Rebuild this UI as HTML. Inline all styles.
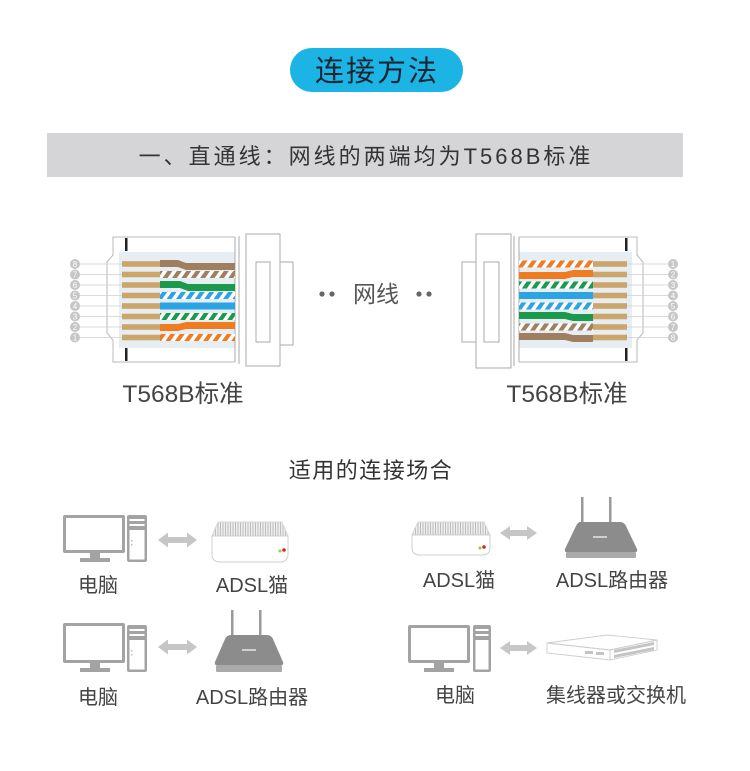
<!DOCTYPE html>
<html><head><meta charset="utf-8"><style>
html,body{margin:0;padding:0;background:#fff;}
svg{display:block;}
text{font-family:"Liberation Sans","Noto Sans CJK SC",sans-serif;}
</style></head><body>
<svg width="750" height="771" viewBox="0 0 750 771" xmlns="http://www.w3.org/2000/svg">
<defs>
 <pattern id="sBr" width="9.4" height="10" patternUnits="userSpaceOnUse" patternTransform="skewX(-35)"><rect width="9.4" height="10" fill="#fff"/><rect width="5" height="10" fill="#9f7f60"/></pattern>
 <pattern id="sGr" width="9.4" height="10" patternUnits="userSpaceOnUse" patternTransform="skewX(-35)"><rect width="9.4" height="10" fill="#fff"/><rect width="5" height="10" fill="#1a9a4c"/></pattern>
 <pattern id="sBl" width="9.4" height="10" patternUnits="userSpaceOnUse" patternTransform="skewX(-35)"><rect width="9.4" height="10" fill="#fff"/><rect width="5" height="10" fill="#2ca3e2"/></pattern>
 <pattern id="sOr" width="9.4" height="10" patternUnits="userSpaceOnUse" patternTransform="skewX(-35)"><rect width="9.4" height="10" fill="#fff"/><rect width="5" height="10" fill="#f07c22"/></pattern>
 <pattern id="hatch" width="2.5" height="10" patternUnits="userSpaceOnUse"><rect width="2.5" height="10" fill="#eeeeee"/><rect width="1" height="10" fill="#bdbdbd"/></pattern>
</defs>

<!-- Title pill -->
<rect x="290" y="48" width="173" height="44" rx="22" fill="#1bb4e4"/>
<text x="377" y="81" font-size="29" letter-spacing="2" text-anchor="middle" fill="#1a2533">连接方法</text>

<!-- Gray bar -->
<rect x="47" y="133" width="636" height="44" fill="#d5d5d7"/>
<text x="366" y="164" font-size="22" letter-spacing="3" text-anchor="middle" fill="#333">一、直通线：网线的两端均为T568B标准</text>

<!-- LEFT CONNECTOR -->
<g>
 <rect x="119" y="252" width="116" height="96" fill="#e6edf3"/>
 <path d="M235,237 H113 V255 L107,262 V333 L113,340 V362 H235" fill="none" stroke="#b8b8b8" stroke-width="1"/>
 <rect x="125" y="238" width="2.5" height="13" fill="#222"/>
 <rect x="125" y="348" width="2.5" height="13" fill="#222"/>
 <line x1="235" y1="237" x2="235" y2="362" stroke="#aaa"/>
 <line x1="239" y1="236" x2="239" y2="364" stroke="#aaa"/>
 <rect x="246" y="234" width="34" height="132" fill="#fff" stroke="#aaa"/>
 <rect x="256" y="262" width="14" height="80" fill="#fff" stroke="#aaa"/>
 <rect x="280" y="262" width="13" height="83" fill="#fff" stroke="#aaa"/>
 <g stroke="#cfcfcf" stroke-width="0.8">
  <line x1="80" y1="264" x2="122" y2="264"/><line x1="80" y1="274.5" x2="122" y2="274.5"/>
  <line x1="80" y1="285" x2="122" y2="285"/><line x1="80" y1="295.5" x2="122" y2="295.5"/>
  <line x1="80" y1="306" x2="122" y2="306"/><line x1="80" y1="316.5" x2="122" y2="316.5"/>
  <line x1="80" y1="327" x2="122" y2="327"/><line x1="80" y1="337.5" x2="122" y2="337.5"/>
 </g>
 <g fill="#c6c6c6">
  <circle cx="75" cy="264" r="5"/><circle cx="75" cy="274.5" r="5"/><circle cx="75" cy="285" r="5"/><circle cx="75" cy="295.5" r="5"/>
  <circle cx="75" cy="306" r="5"/><circle cx="75" cy="316.5" r="5"/><circle cx="75" cy="327" r="5"/><circle cx="75" cy="337.5" r="5"/>
 </g>
 <g fill="#fff" font-size="8" text-anchor="middle">
  <text x="75" y="267">8</text><text x="75" y="277.5">7</text><text x="75" y="288">6</text><text x="75" y="298.5">5</text>
  <text x="75" y="309">4</text><text x="75" y="319.5">3</text><text x="75" y="330">2</text><text x="75" y="340.5">1</text>
 </g>
 <g fill="#cca56b">
  <rect x="122" y="261.2" width="38" height="5.6"/><rect x="122" y="271.7" width="38" height="5.6"/>
  <rect x="122" y="282.2" width="38" height="5.6"/><rect x="122" y="292.7" width="38" height="5.6"/>
  <rect x="122" y="303.2" width="38" height="5.6"/><rect x="122" y="313.7" width="38" height="5.6"/>
  <rect x="122" y="324.2" width="38" height="5.6"/><rect x="122" y="334.7" width="38" height="5.6"/>
 </g>
 <path d="M160,260 H178 L186,263 H235 V270 H186 L178,267 H160Z" fill="#9f7f60"/>
 <rect x="160" y="271" width="75" height="7" fill="url(#sBr)"/>
 <path d="M160,281 H180 L188,284 H235 V291 H188 L180,288 H160Z" fill="#1a9a4c"/>
 <rect x="160" y="292" width="75" height="7" fill="url(#sBl)"/>
 <rect x="160" y="302.5" width="75" height="7" fill="#2ca3e2"/>
 <rect x="160" y="313" width="75" height="7" fill="url(#sGr)"/>
 <path d="M160,324 H178 L186,322 H235 V329 H186 L178,331 H160Z" fill="#f07c22"/>
 <rect x="160" y="334" width="75" height="7" fill="url(#sOr)"/>
</g>

<!-- middle label -->
<g fill="#666">
 <circle cx="322" cy="294" r="2.6"/><circle cx="332" cy="294" r="2.6"/>
 <circle cx="419" cy="294" r="2.6"/><circle cx="429" cy="294" r="2.6"/>
</g>
<text x="376" y="302" font-size="23" text-anchor="middle" fill="#555">网线</text>

<!-- RIGHT CONNECTOR -->
<g>
 <rect x="519" y="252" width="113" height="96" fill="#e6edf3"/>
 <path d="M519,237 H637 V255 L643,262 V333 L637,340 V362 H519" fill="none" stroke="#b8b8b8" stroke-width="1"/>
 <rect x="625" y="238" width="2.5" height="13" fill="#222"/>
 <rect x="625" y="348" width="2.5" height="13" fill="#222"/>
 <line x1="519" y1="237" x2="519" y2="362" stroke="#aaa"/>
 <line x1="514" y1="236" x2="514" y2="366" stroke="#aaa"/>
 <rect x="476" y="234" width="35" height="134" fill="#fff" stroke="#aaa"/>
 <rect x="484" y="262" width="15" height="80" fill="#fff" stroke="#aaa"/>
 <rect x="462" y="262" width="14" height="80" fill="#fff" stroke="#aaa"/>
 <g stroke="#cfcfcf" stroke-width="0.8">
  <line x1="627" y1="264" x2="668" y2="264"/><line x1="627" y1="274.5" x2="668" y2="274.5"/>
  <line x1="627" y1="285" x2="668" y2="285"/><line x1="627" y1="295.5" x2="668" y2="295.5"/>
  <line x1="627" y1="306" x2="668" y2="306"/><line x1="627" y1="316.5" x2="668" y2="316.5"/>
  <line x1="627" y1="327" x2="668" y2="327"/><line x1="627" y1="337.5" x2="668" y2="337.5"/>
 </g>
 <g fill="#c6c6c6">
  <circle cx="673" cy="264" r="5"/><circle cx="673" cy="274.5" r="5"/><circle cx="673" cy="285" r="5"/><circle cx="673" cy="295.5" r="5"/>
  <circle cx="673" cy="306" r="5"/><circle cx="673" cy="316.5" r="5"/><circle cx="673" cy="327" r="5"/><circle cx="673" cy="337.5" r="5"/>
 </g>
 <g fill="#fff" font-size="8" text-anchor="middle">
  <text x="673" y="267">1</text><text x="673" y="277.5">2</text><text x="673" y="288">3</text><text x="673" y="298.5">4</text>
  <text x="673" y="309">5</text><text x="673" y="319.5">6</text><text x="673" y="330">7</text><text x="673" y="340.5">8</text>
 </g>
 <g fill="#cca56b">
  <rect x="593" y="261.2" width="34" height="5.6"/><rect x="593" y="271.7" width="34" height="5.6"/>
  <rect x="593" y="282.2" width="34" height="5.6"/><rect x="593" y="292.7" width="34" height="5.6"/>
  <rect x="593" y="303.2" width="34" height="5.6"/><rect x="593" y="313.7" width="34" height="5.6"/>
  <rect x="593" y="324.2" width="34" height="5.6"/><rect x="593" y="334.7" width="34" height="5.6"/>
 </g>
 <rect x="519" y="260.5" width="74" height="7" fill="url(#sOr)"/>
 <path d="M519,272 H565 L573,270 H593 V277 H573 L565,279 H519Z" fill="#f07c22"/>
 <rect x="519" y="281.5" width="74" height="7" fill="url(#sGr)"/>
 <rect x="519" y="292" width="74" height="7" fill="#2ca3e2"/>
 <rect x="519" y="302.5" width="74" height="7" fill="url(#sBl)"/>
 <path d="M519,312 H565 L573,314 H593 V321 H573 L565,319 H519Z" fill="#1a9a4c"/>
 <rect x="519" y="323.5" width="74" height="7" fill="url(#sBr)"/>
 <path d="M519,333 H565 L573,335 H593 V342 H573 L565,340 H519Z" fill="#9f7f60"/>
</g>

<!-- T568B labels -->
<text x="183" y="402" font-size="24.5" text-anchor="middle" fill="#444">T568B标准</text>
<text x="567" y="402" font-size="24.5" text-anchor="middle" fill="#444">T568B标准</text>

<text x="371" y="478" font-size="22" letter-spacing="1.5" text-anchor="middle" fill="#333">适用的连接场合</text>

<!-- ROW 1 LEFT: computer -->
<g fill="#a3a3a3">
 <rect x="63" y="515" width="62" height="38" rx="2"/>
 <rect x="90" y="553" width="10" height="5"/>
 <rect x="80" y="558" width="30" height="4"/>
 <rect x="127" y="515" width="20" height="47" rx="2"/>
</g>
<rect x="66" y="518" width="56" height="32" fill="#fff"/>
<rect x="129.5" y="530" width="15" height="29.5" fill="#fff"/>
<g fill="#fff"><rect x="129.5" y="519" width="15" height="2"/><rect x="129.5" y="524" width="15" height="2"/></g>
<g fill="#bbb"><rect x="131" y="540" width="1.5" height="1.5"/><rect x="131" y="544" width="1.5" height="1.5"/></g>
<polygon points="158,540 168,532.5 168,537 187,537 187,532.5 197,540 187,547.5 187,543 168,543 168,547.5" fill="#c6c6c6"/>
<!-- modem -->
<g>
 <polygon points="218,522 282,522 288,536 212,536" fill="url(#hatch)" stroke="#d8d8d8"/>
 <path d="M212,536 H288 V554 Q288,562 280,562 H220 Q212,562 212,554Z" fill="#fff" stroke="#cfcfcf"/>
 <circle cx="284" cy="550" r="1.8" fill="#d22"/><circle cx="280" cy="551" r="1.5" fill="#9c3"/>
</g>
<text x="98" y="592" font-size="20" text-anchor="middle" fill="#444">电脑</text>
<text x="252" y="592" font-size="20" text-anchor="middle" fill="#444">ADSL猫</text>

<!-- ROW 1 RIGHT -->
<g>
 <polygon points="418,522 484,522 490,535 412,535" fill="url(#hatch)" stroke="#d8d8d8"/>
 <path d="M412,535 H490 V548 Q490,555 482,555 H420 Q412,555 412,548Z" fill="#fff" stroke="#cfcfcf"/>
 <circle cx="484" cy="547" r="1.8" fill="#d22"/><circle cx="480" cy="548" r="1.5" fill="#9c3"/>
</g>
<polygon points="500,533 510,526 510,530 527,530 527,526 537,533 527,540 527,536 510,536 510,540" fill="#c6c6c6"/>
<g>
 <rect x="581" y="497" width="2.5" height="28" fill="#9a9a9a"/>
 <rect x="609" y="497" width="2.5" height="28" fill="#9a9a9a"/>
 <path d="M580,522 H620 Q624,522 626,526 L637,549 Q638,552 635,552 H567 Q564,552 565,549 L576,526 Q578,522 580,522Z" fill="#8c8c8c"/>
 <rect x="566" y="552" width="70" height="6" rx="1" fill="#aaa"/>
 <rect x="593" y="536" width="14" height="2" fill="#cfcfcf"/>
</g>
<text x="459" y="587" font-size="20" text-anchor="middle" fill="#444">ADSL猫</text>
<text x="612" y="587" font-size="20" text-anchor="middle" fill="#444">ADSL路由器</text>

<!-- ROW 2 LEFT -->
<g fill="#a3a3a3">
 <rect x="63" y="623" width="62" height="40" rx="2"/>
 <rect x="90" y="663" width="10" height="5"/>
 <rect x="80" y="668" width="30" height="4"/>
 <rect x="127" y="625" width="20" height="47" rx="2"/>
</g>
<rect x="66" y="626" width="56" height="34" fill="#fff"/>
<rect x="129.5" y="640" width="15" height="29.5" fill="#fff"/>
<g fill="#fff"><rect x="129.5" y="629" width="15" height="2"/><rect x="129.5" y="634" width="15" height="2"/></g>
<g fill="#bbb"><rect x="131" y="650" width="1.5" height="1.5"/><rect x="131" y="654" width="1.5" height="1.5"/></g>
<polygon points="158,647 168,639.5 168,644 187,644 187,639.5 197,647 187,654.5 187,650 168,650 168,654.5" fill="#c6c6c6"/>
<g>
 <rect x="231" y="610" width="2.5" height="28" fill="#9a9a9a"/>
 <rect x="259" y="610" width="2.5" height="28" fill="#9a9a9a"/>
 <path d="M231,635 H267 Q271,635 273,639 L283,662 Q284,665 281,665 H217 Q214,665 215,662 L225,639 Q227,635 231,635Z" fill="#8c8c8c"/>
 <rect x="216" y="665" width="66" height="7" rx="1" fill="#aaa"/>
 <rect x="242" y="649" width="14" height="2" fill="#cfcfcf"/>
</g>
<text x="98" y="704" font-size="20" text-anchor="middle" fill="#444">电脑</text>
<text x="252" y="704" font-size="20" text-anchor="middle" fill="#444">ADSL路由器</text>

<!-- ROW 2 RIGHT -->
<g fill="#a3a3a3">
 <rect x="408" y="625" width="62" height="38" rx="2"/>
 <rect x="434" y="663" width="10" height="5"/>
 <rect x="424" y="668" width="30" height="4"/>
 <rect x="473" y="625" width="18" height="47" rx="2"/>
</g>
<rect x="411" y="628" width="56" height="32" fill="#fff"/>
<rect x="475.5" y="640" width="13" height="29.5" fill="#fff"/>
<g fill="#fff"><rect x="475.5" y="629" width="13" height="2"/><rect x="475.5" y="634" width="13" height="2"/></g>
<polygon points="500,648 510,641 510,645 527,645 527,641 537,648 527,655 527,651 510,651 510,655" fill="#c6c6c6"/>
<g fill="none" stroke="#cdcdcd" stroke-width="0.9">
 <polygon points="547,643 607,635 657,640 610,650"/>
 <polygon points="547,643 610,650 610,660 547,653"/>
 <polygon points="610,650 657,640 657,650 610,660"/>
</g>
<g fill="#c4c4c4">
 <rect x="585" y="651" width="8" height="3"/><rect x="596" y="652" width="8" height="3"/>
 <polygon points="614,650 654,642 654,645 614,653"/>
 <polygon points="614,655 654,647 654,650 614,658"/>
</g>
<text x="455" y="702" font-size="20" text-anchor="middle" fill="#444">电脑</text>
<text x="616" y="702" font-size="20" text-anchor="middle" fill="#444">集线器或交换机</text>
</svg>
</body></html>
